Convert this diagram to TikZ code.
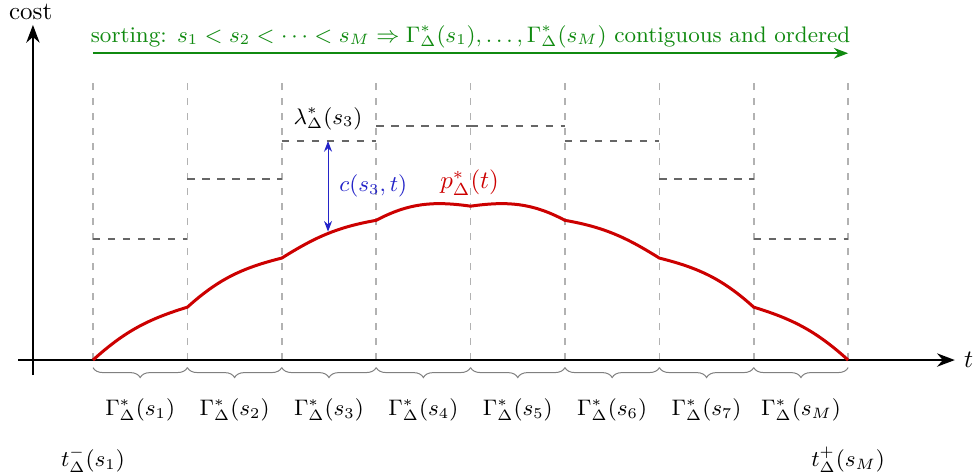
\documentclass[tikz,border=0pt]{standalone}
\usepackage{amsmath}
\usepackage{xcolor}
\usepackage{tikz}
\usetikzlibrary{arrows.meta,positioning,decorations.pathreplacing}
\definecolor{costred}{HTML}{CC0000}
\definecolor{costgreen}{HTML}{108A10}
\definecolor{costblue}{HTML}{2424C8}
\definecolor{costgray}{HTML}{666666}
\tikzset{
  axis/.style={-{Stealth[length=2.5mm]},thick},
  bound/.style={dashed,gray!60,semithick},
  level/.style={dashed,costgray,semithick},
  price/.style={costred,very thick},
  gap/.style={{Stealth[length=1.5mm]}-{Stealth[length=1.5mm]},costblue},
  brc/.style={decorate,decoration={brace,mirror,amplitude=4pt},gray},
  sortarr/.style={-{Stealth[length=2mm]},costgreen,semithick},
}
\begin{document}
\begin{tikzpicture}[x=1.328cm,y=1.328cm,every node/.style={font=\small}]
  \useasboundingbox (-0.985,-1.218) rectangle (9.365,3.814);
  % segment bounds and dual levels
  \foreach \i in {0,...,8} {
    \coordinate (b\i) at (\i,0); \coordinate (u\i) at (\i,2.97);
    \draw[bound] (b\i) -- (u\i);
  }
  \foreach \i/\h in {0/1.28,1/1.92,2/2.32,3/2.48,4/2.48,5/2.32,6/1.92,7/1.28}
    \draw[level] (\i,\h) -- ({\i+1},\h);
  % axes
  \coordinate (xs) at (-0.79,0); \coordinate (xe) at (9.13,0);
  \coordinate (ys) at (-0.636,-0.16); \coordinate (ye) at (-0.636,3.55);
  \draw[axis] (xs) -- (xe) node[right,font=\normalsize] (tlbl) {$t$};
  \draw[axis] (ys) -- (ye);
  \node[font=\normalsize] (costlbl) at (-0.66,3.69) {cost};
  % price curve
  \coordinate (q0) at (0,0);    \coordinate (q1) at (1,0.56);
  \coordinate (q2) at (2,1.08); \coordinate (q3) at (3,1.48);
  \coordinate (q4) at (4,1.63); \coordinate (q5) at (5,1.48);
  \coordinate (q6) at (6,1.08); \coordinate (q7) at (7,0.56);
  \coordinate (q8) at (8,0);
  \draw[price] (q0) to[out=42,in=197] (q1) to[out=42,in=194] (q2)
    to[out=32,in=190] (q3) to[out=28,in=172] (q4) to[out=8,in=152]
    (q5) to[out=-10,in=148] (q6) to[out=-14,in=138] (q7)
    to[out=-17,in=138] (q8);
  \node[costred,font=\normalsize] (plbl) at (3.99,1.875) {$p^*_\Delta(t)$};
  % gap between level and curve
  \coordinate (lam) at (2.49,2.32); \coordinate (cc) at (2.49,1.36);
  \draw[gap] (lam) -- (cc);
  \node (lamlbl) at (2.49,2.56) {$\lambda^*_\Delta(s_3)$};
  \node[costblue] (clbl) at (2.97,1.84) {$c(s_3,t)$};
  % sorting arrow
  \coordinate (g0) at (0,3.25); \coordinate (g8) at (8,3.25);
  \draw[sortarr] (g0) -- (g8) node[midway,above,yshift=-1.5pt,costgreen] (sortlbl)
    {sorting: $s_1<s_2<\cdots<s_M\Rightarrow\Gamma^*_\Delta(s_1),\dots,\Gamma^*_\Delta(s_M)$ contiguous and ordered};
  % intervals
  \foreach \i/\s in {0/1,1/2,2/3,3/4,4/5,5/6,6/7,7/M} {
    \draw[brc] (\i,-0.08) -- ({\i+1},-0.08);
    \node (gam\s) at ({\i+0.5},-0.53) {$\Gamma^*_\Delta(s_\s)$};
  }
  \node (tminus) at (0,-1.06) {$t^-_\Delta(s_1)$};
  \node (tplus) at (8,-1.06) {$t^+_\Delta(s_M)$};
\end{tikzpicture}
\end{document}
